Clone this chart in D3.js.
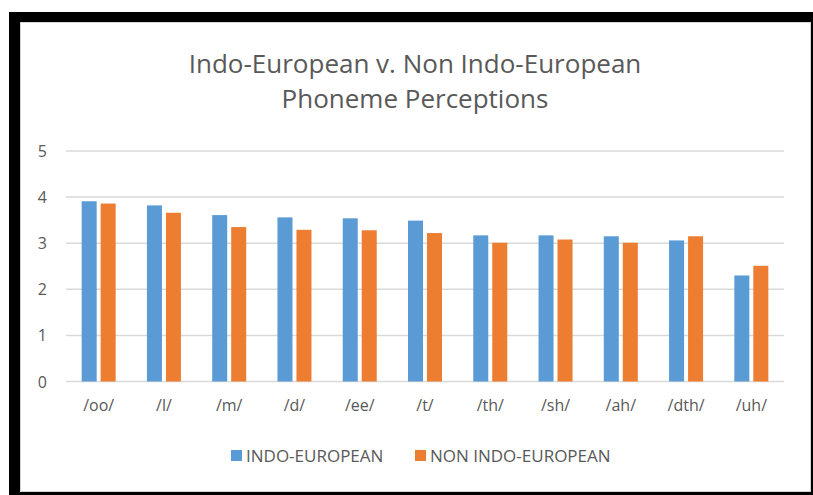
<!DOCTYPE html>
<html>
<head>
<meta charset="utf-8">
<script src="https://cdn.jsdelivr.net/npm/d3@7"></script>
<style>
  body { margin: 0; background: #fff; }
  text { font-family: "Open Sans", sans-serif; fill: #595959; }
</style>
</head>
<body>
<svg id="chart" width="813" height="495"></svg>
<script>
var categorias = ['/oo/', '/l/', '/m/', '/d/', '/ee/', '/t/', '/th/', '/sh/', '/ah/', '/dth/', '/uh/'];
var series = ['INDO-EUROPEAN', 'NON INDO-EUROPEAN'];
var indoEuropeu = [3.91, 3.82, 3.61, 3.56, 3.54, 3.49, 3.17, 3.17, 3.15, 3.06, 2.30];
var naoIndoEuropeu = [3.86, 3.66, 3.35, 3.29, 3.28, 3.22, 3.01, 3.08, 3.01, 3.15, 2.51];
var ticksY = [0, 1, 2, 3, 4, 5];
var titulo = ['Indo-European v. Non Indo-European', 'Phoneme Perceptions'];

var cores = ['#5B9BD5', '#ED7D31'];

var svg = d3.select('#chart');

// moldura preta + fundo do grafico
svg.append('rect')
    .attr('x', 9).attr('y', 12)
    .attr('width', 804).attr('height', 483)
    .style('fill', '#000');
svg.append('rect')
    .attr('x', 20.5).attr('y', 22.5)
    .attr('width', 790).attr('height', 469)
    .style('fill', '#fff')
    .style('stroke', '#d4d4d4');

// titulo
svg.selectAll('.titulo')
    .data(titulo)
    .enter()
    .append('text')
    .attr('class', 'titulo')
    .attr('x', 415)
    .attr('y', function (d, i) { return 73 + i * 35; })
    .attr('text-anchor', 'middle')
    .style('font-size', '26px')
    .text(function (d) { return d; });

var esq = 66, dir = 784, topo = 151, base = 381.5;

var y = d3.scaleLinear().domain([0, 5]).range([base, topo]);
var x0 = d3.scaleBand().domain(categorias).range([esq, dir])
    .paddingInner(0.479).paddingOuter(0.24);
var x1 = d3.scaleBand().domain(series).range([0, x0.bandwidth()])
    .paddingInner(0.21);

// linhas de grade
svg.append('g')
    .selectAll('line')
    .data(ticksY)
    .enter()
    .append('line')
    .attr('x1', esq).attr('x2', dir)
    .attr('y1', function (d) { return y(d); })
    .attr('y2', function (d) { return y(d); })
    .style('stroke', '#d9d9d9')
    .style('stroke-width', 1.5);

// rotulos do eixo y
svg.append('g')
    .selectAll('text')
    .data(ticksY)
    .enter()
    .append('text')
    .attr('x', 47)
    .attr('y', function (d) { return y(d) + 6; })
    .attr('text-anchor', 'end')
    .style('font-size', '16px')
    .text(function (d) { return d; });

// barras
var linhas = categorias.map(function (c, i) {
    return [
        { serie: series[0], valor: indoEuropeu[i] },
        { serie: series[1], valor: naoIndoEuropeu[i] }
    ];
});

svg.append('g')
    .selectAll('g')
    .data(linhas)
    .enter()
    .append('g')
    .attr('transform', function (d, i) { return 'translate(' + x0(categorias[i]) + ',0)'; })
    .selectAll('rect')
    .data(function (d) { return d; })
    .enter()
    .append('rect')
    .attr('x', function (d) { return x1(d.serie); })
    .attr('y', function (d) { return y(d.valor); })
    .attr('width', x1.bandwidth())
    .attr('height', function (d) { return base - y(d.valor); })
    .style('fill', function (d, i) { return cores[i]; });

// rotulos do eixo x
svg.append('g')
    .selectAll('text')
    .data(categorias)
    .enter()
    .append('text')
    .attr('x', function (d) { return x0(d) + x0.bandwidth() / 2; })
    .attr('y', 411)
    .attr('text-anchor', 'middle')
    .style('font-size', '16px')
    .text(function (d) { return d; });

// legenda
var legendaX = [231, 415];
var legenda = svg.append('g')
    .selectAll('g')
    .data(series)
    .enter()
    .append('g')
    .attr('transform', function (d, i) { return 'translate(' + legendaX[i] + ',450)'; });

legenda.append('rect')
    .attr('width', 11).attr('height', 11)
    .style('fill', function (d, i) { return cores[i]; });

legenda.append('text')
    .attr('x', 15)
    .attr('y', 12)
    .style('font-size', '17px')
    .text(function (d) { return d; });
</script>
</body>
</html>
